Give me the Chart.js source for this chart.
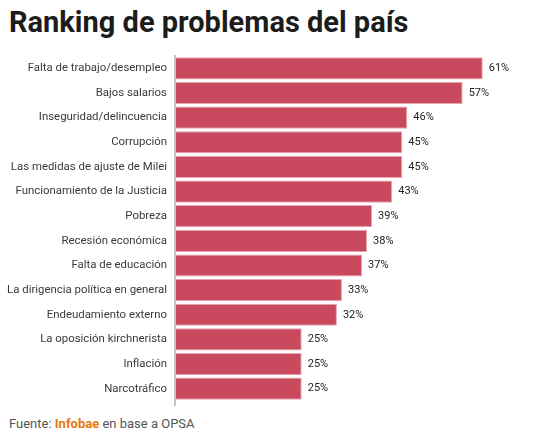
<!DOCTYPE html>
<html>
<head>
<meta charset="utf-8">
<script src="https://cdn.jsdelivr.net/npm/chart.js@4"></script>
<style>
  body { margin: 0; background: #fff; font-family: Roboto, sans-serif; }
  .wrap { position: relative; width: 551px; height: 435px; }
  h1 { position: absolute; left: 9px; top: 5px; margin: 0; font-size: 29px; font-weight: 700; color: #1c1c1c; }
  .chart { position: absolute; left: 0; top: 54px; width: 551px; height: 354px; }
  .source { position: absolute; left: 9px; top: 416px; font-size: 13px; color: #555; }
  .source b { color: #e8780c; }
</style>
</head>
<body>
<div class="wrap">
  <h1>Ranking de problemas del país</h1>
  <div class="chart"><canvas id="ranking"></canvas></div>
  <div class="source">Fuente: <b>Infobae</b> en base a OPSA</div>
</div>
<script>
const categories = [
  "Falta de trabajo/desempleo",
  "Bajos salarios",
  "Inseguridad/delincuencia",
  "Corrupción",
  "Las medidas de ajuste de Milei",
  "Funcionamiento de la Justicia",
  "Pobreza",
  "Recesión económica",
  "Falta de educación",
  "La dirigencia política en general",
  "Endeudamiento externo",
  "La oposición kirchnerista",
  "Inflación",
  "Narcotráfico",
];
const values = [61, 57, 46, 45, 45, 43, 39, 38, 37, 33, 32, 25, 25, 25];

// percent labels after each bar + the axis line running a bit past the bars
const barLabels = {
  id: "barLabels",
  afterDatasetsDraw(chart) {
    const { ctx, chartArea } = chart;
    const meta = chart.getDatasetMeta(0);
    ctx.save();
    ctx.strokeStyle = "#c4c4c4";
    ctx.lineWidth = 2;
    ctx.beginPath();
    ctx.moveTo(chartArea.left - 1, chartArea.top - 1);
    ctx.lineTo(chartArea.left - 1, chartArea.bottom + 5);
    ctx.stroke();

    ctx.font = "11px Roboto, sans-serif";
    ctx.fillStyle = "#222";
    ctx.textAlign = "left";
    ctx.textBaseline = "middle";
    meta.data.forEach((bar, i) => {
      ctx.fillText(values[i] + "%", bar.x + 6, bar.y);
    });
    ctx.restore();
  },
};

new Chart(document.getElementById("ranking"), {
  type: "bar",
  data: {
    labels: categories,
    datasets: [
      {
        data: values,
        backgroundColor: "#c94a5f",
        borderColor: "#e7a3ae",
        borderWidth: 1,
        borderSkipped: "left",
        barPercentage: 0.9,
        categoryPercentage: 1,
      },
    ],
  },
  options: {
    indexAxis: "y",
    responsive: true,
    maintainAspectRatio: false,
    animation: false,
    layout: { padding: { left: 0, right: 23, top: 2, bottom: 7 } },
    plugins: {
      legend: { display: false },
      tooltip: { enabled: false },
    },
    scales: {
      x: { display: false, min: 0, max: 70 },
      y: {
        afterFit(scale) {
          scale.width = 176;
          scale.paddingTop = 0;
          scale.paddingBottom = 0;
        },
        grid: { display: false, drawTicks: false },
        border: { display: false },
        ticks: {
          padding: 9,
          color: "#3a3a3a",
          font: { family: "Roboto", size: 11.4 },
        },
      },
    },
  },
  plugins: [barLabels],
});
</script>
</body>
</html>
